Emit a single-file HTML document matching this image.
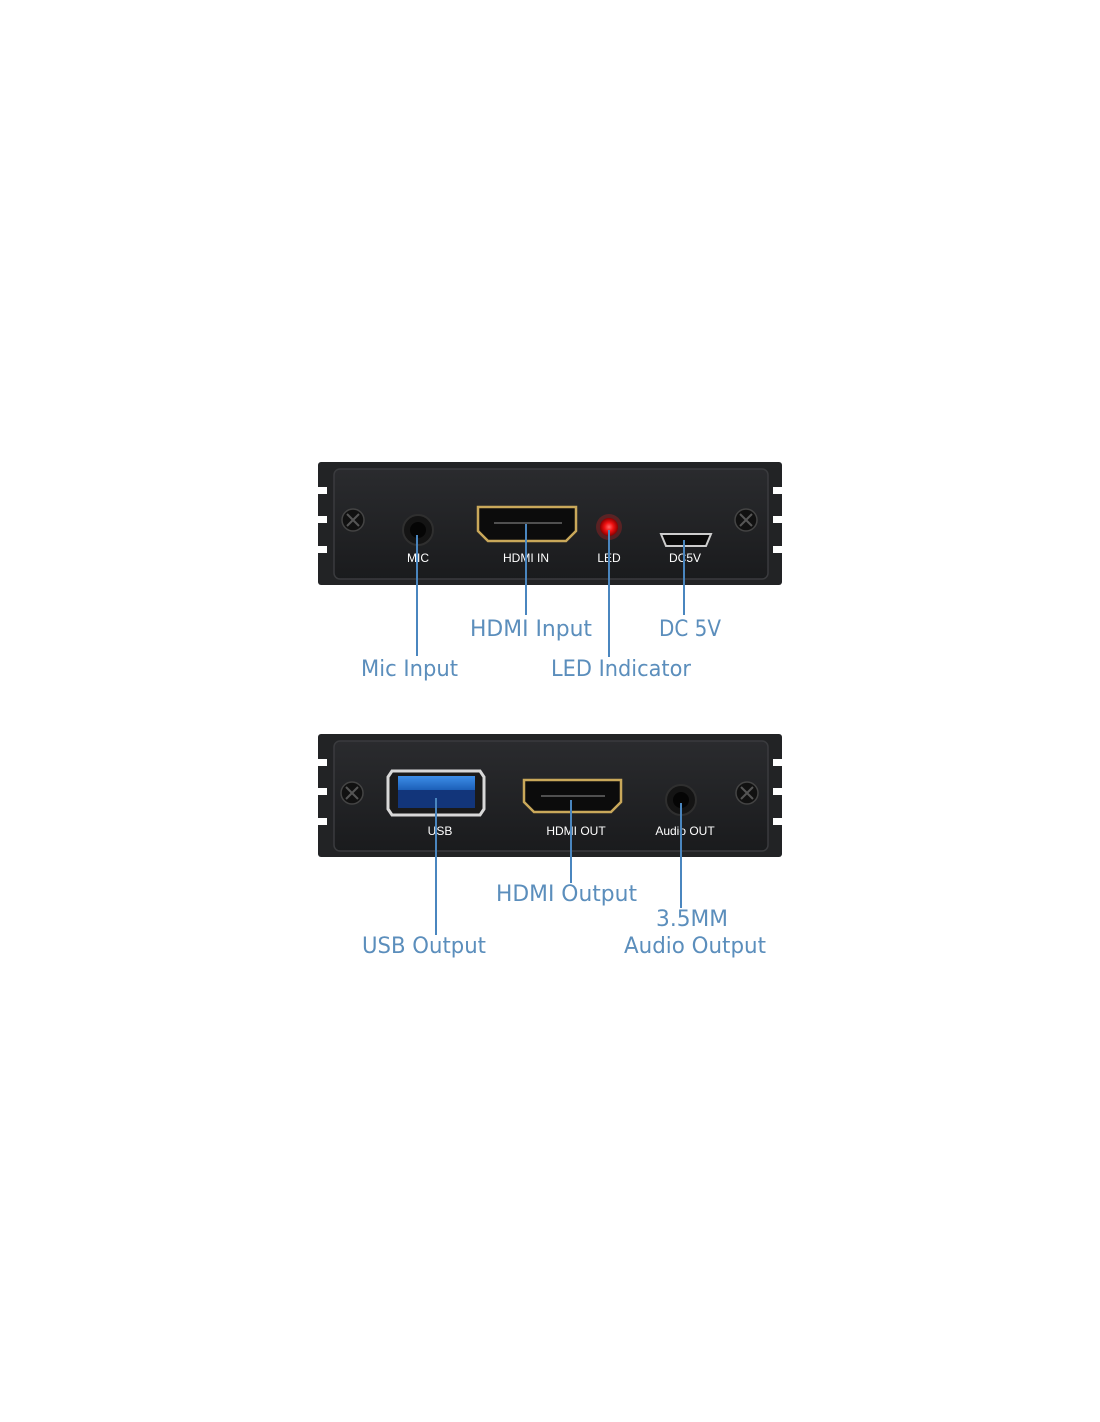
<!DOCTYPE html>
<html><head><meta charset="utf-8"><style>html,body{margin:0;padding:0;background:#fff}svg{display:block}</style></head>
<body>
<svg width="1100" height="1422" viewBox="0 0 1100 1422" xmlns="http://www.w3.org/2000/svg" font-family="Liberation Sans, sans-serif">
<defs>
<linearGradient id="pg" x1="0" y1="0" x2="0" y2="1"><stop offset="0" stop-color="#2a2b2e"/><stop offset="1" stop-color="#1a1b1d"/></linearGradient>
<radialGradient id="led"><stop offset="0" stop-color="#ff6a6a"/><stop offset="0.5" stop-color="#f01010"/><stop offset="1" stop-color="#8a0000"/></radialGradient>
<linearGradient id="usb" x1="0" y1="0" x2="0" y2="1"><stop offset="0" stop-color="#3d8ee8"/><stop offset="1" stop-color="#1c5fb8"/></linearGradient>
</defs>
<!-- TOP PANEL -->
<g>
<rect x="318" y="462" width="464" height="123" rx="3" fill="#222325"/>
<rect x="334" y="469" width="434" height="110" rx="6" fill="url(#pg)" stroke="#3a3b3e" stroke-width="1.5"/>
<rect x="318" y="487" width="9" height="7" fill="#fff"/><rect x="318" y="516" width="9" height="7" fill="#fff"/><rect x="318" y="546" width="9" height="7" fill="#fff"/>
<rect x="773" y="487" width="9" height="7" fill="#fff"/><rect x="773" y="516" width="9" height="7" fill="#fff"/><rect x="773" y="546" width="9" height="7" fill="#fff"/>
<circle cx="353" cy="520" r="11" fill="#111" stroke="#444" stroke-width="1.5"/><path d="M347 514l12 12M359 514l-12 12" stroke="#555" stroke-width="2"/>
<circle cx="746" cy="520" r="11" fill="#111" stroke="#444" stroke-width="1.5"/><path d="M740 514l12 12M752 514l-12 12" stroke="#555" stroke-width="2"/>
<circle cx="418" cy="530" r="15" fill="#141414" stroke="#2f2f2f" stroke-width="2"/><circle cx="418" cy="530" r="8" fill="#050505"/>
<path d="M478 507h98v24l-10 10h-78l-10-10z" fill="#0c0c0c" stroke="#c9a85a" stroke-width="2.5"/>
<line x1="494" y1="523" x2="562" y2="523" stroke="#666" stroke-width="1.5"/>
<circle cx="609" cy="527" r="13" fill="#ff2020" opacity="0.25"/><circle cx="609" cy="527" r="9" fill="url(#led)"/>
<path d="M661 534h50l-5 12h-40z" fill="#0a0a0a" stroke="#ccc" stroke-width="2"/>
<g fill="#fff" font-size="12" text-anchor="middle"><text x="418" y="562">MIC</text><text x="526" y="562">HDMI IN</text><text x="609" y="562">LED</text><text x="685" y="562">DC5V</text></g>
</g>
<!-- BOTTOM PANEL -->
<g>
<rect x="318" y="734" width="464" height="123" rx="3" fill="#222325"/>
<rect x="334" y="741" width="434" height="110" rx="6" fill="url(#pg)" stroke="#3a3b3e" stroke-width="1.5"/>
<rect x="318" y="759" width="9" height="7" fill="#fff"/><rect x="318" y="788" width="9" height="7" fill="#fff"/><rect x="318" y="818" width="9" height="7" fill="#fff"/>
<rect x="773" y="759" width="9" height="7" fill="#fff"/><rect x="773" y="788" width="9" height="7" fill="#fff"/><rect x="773" y="818" width="9" height="7" fill="#fff"/>
<circle cx="352" cy="793" r="11" fill="#111" stroke="#444" stroke-width="1.5"/><path d="M346 787l12 12M358 787l-12 12" stroke="#555" stroke-width="2"/>
<circle cx="747" cy="793" r="11" fill="#111" stroke="#444" stroke-width="1.5"/><path d="M741 787l12 12M753 787l-12 12" stroke="#555" stroke-width="2"/>
<path d="M392 771h88l4 6v32l-4 6h-88l-4-6v-32z" fill="#1a1a1a" stroke="#d8d8d8" stroke-width="3"/>
<rect x="398" y="776" width="77" height="14" fill="url(#usb)"/><rect x="398" y="790" width="77" height="18" fill="#12357a"/>
<path d="M524 780h97v22l-10 10h-77l-10-10z" fill="#0c0c0c" stroke="#c9a85a" stroke-width="2.5"/>
<line x1="541" y1="796" x2="605" y2="796" stroke="#666" stroke-width="1.5"/>
<circle cx="681" cy="800" r="15" fill="#141414" stroke="#2f2f2f" stroke-width="2"/><circle cx="681" cy="800" r="8" fill="#050505"/>
<g fill="#fff" font-size="12" text-anchor="middle"><text x="440" y="835">USB</text><text x="576" y="835">HDMI OUT</text><text x="685" y="835">Audio OUT</text></g>
</g>
<!-- LEADER LINES -->
<g stroke="#4a86bf" stroke-width="2">
<line x1="417" y1="535" x2="417" y2="656"/>
<line x1="526" y1="524" x2="526" y2="615"/>
<line x1="609" y1="530" x2="609" y2="657"/>
<line x1="684" y1="540" x2="684" y2="615"/>
<line x1="436" y1="798" x2="436" y2="935"/>
<line x1="571" y1="800" x2="571" y2="883"/>
<line x1="681" y1="803" x2="681" y2="908"/>
</g>
<!-- LABELS -->
<g fill="#5b8ebc" font-size="22" font-family="DejaVu Sans, Liberation Sans, sans-serif">
<text x="470" y="636" textLength="122" lengthAdjust="spacingAndGlyphs">HDMI Input</text>
<text x="659" y="636" textLength="62" lengthAdjust="spacingAndGlyphs">DC 5V</text>
<text x="361" y="676" textLength="97" lengthAdjust="spacingAndGlyphs">Mic Input</text>
<text x="551" y="676" textLength="140" lengthAdjust="spacingAndGlyphs">LED Indicator</text>
<text x="496" y="901" textLength="141" lengthAdjust="spacingAndGlyphs">HDMI Output</text>
<text x="656" y="926" textLength="72" lengthAdjust="spacingAndGlyphs">3.5MM</text>
<text x="624" y="953" textLength="142" lengthAdjust="spacingAndGlyphs">Audio Output</text>
<text x="362" y="953" textLength="124" lengthAdjust="spacingAndGlyphs">USB Output</text>
</g>
</svg>
</body></html>
